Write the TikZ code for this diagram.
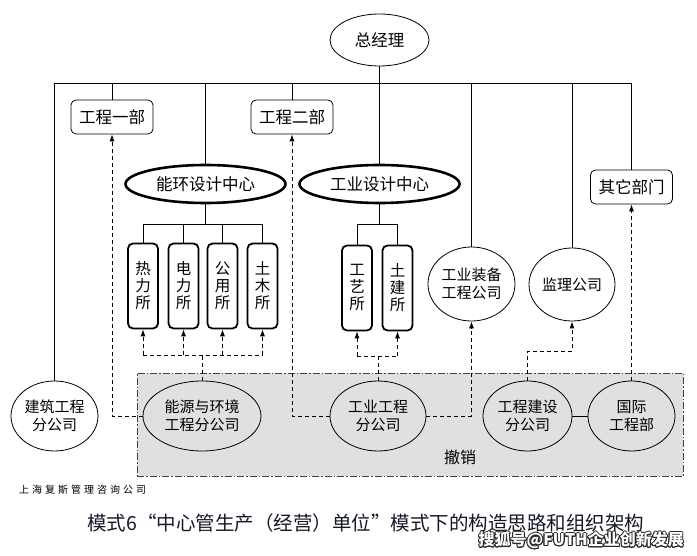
\documentclass[tikz,border=0pt]{standalone}
\usepackage{fontspec}
\setmainfont{Liberation Sans}
\newfontfamily\cjk{Noto Sans CJK SC}
\usepackage{contour}
\usetikzlibrary{shapes.geometric,arrows.meta}
\definecolor{shade}{RGB}{224,224,224}
\definecolor{captc}{RGB}{20,24,40}
\tikzset{
  solidln/.style={draw=black,line width=0.8pt},
  dashln/.style={draw=black,line width=0.8pt,dash pattern=on 4pt off 3pt},
  darr/.style={dashln,-{Latex[length=7pt,width=5pt]}},
  rbox/.style={draw,line width=0.8pt,rounded corners=5pt,minimum width=82pt,minimum height=34pt,inner sep=0pt,font=\cjk\fontsize{16.5}{18}\selectfont},
  ctr/.style={ellipse,draw,line width=2.6pt,minimum width=160pt,minimum height=38pt,inner sep=0pt,font=\cjk\fontsize{16.5}{18}\selectfont},
  subbox/.style={draw,line width=1.8pt,rounded corners=5pt,minimum width=30pt,minimum height=85pt,inner sep=0pt,align=center,font=\cjk\fontsize{15.5}{17}\selectfont},
  comp/.style={ellipse,draw,line width=0.8pt,inner sep=0pt,align=center,fill=white,font=\cjk\fontsize{15}{18}\selectfont},
  compg/.style={comp,fill=shade}
}
\begin{document}
\begin{tikzpicture}[x=1pt,y=-1pt]
\useasboundingbox (0,0) rectangle (697,556);
% shaded region
\node (chx) [draw=black!75,line width=0.8pt,dash pattern=on 7pt off 2pt on 1.5pt off 2pt,fill=shade,minimum width=546pt,minimum height=103pt,inner sep=0pt] at (410,424.5) {};
\node (cxl) [font=\cjk\fontsize{16}{18}\selectfont] at (460,457) {撤销};

% top
\node (zjl) [ellipse,draw,line width=0.8pt,minimum width=99pt,minimum height=52pt,inner sep=0pt,font=\cjk\fontsize{16.5}{18}\selectfont] at (379.5,40) {总经理};
\coordinate (busL) at (54.5,83);
\coordinate (busR) at (631.5,83);

\node (gc1) [rbox] at (112,117) {工程一部};
\node (gc2) [rbox] at (292,117) {工程二部};
\node (qt) [rbox] at (631.5,187) {其它部门};

\node (nhsj) [ctr] at (205.5,184) {能环设计中心};
\node (gysj) [ctr] at (379.5,184) {工业设计中心};

\node (rl) [subbox] at (143,286) {热\\力\\所};
\node (dl) [subbox] at (183.5,286) {电\\力\\所};
\node (gy) [subbox] at (222.5,286) {公\\用\\所};
\node (tm) [subbox] at (262.5,286) {土\\木\\所};
\node (gx) [subbox] at (357,288) {工\\艺\\所};
\node (tj) [subbox] at (397.5,288) {土\\建\\所};

\node (gyzb) [comp,minimum width=87pt,minimum height=74pt] at (471.5,284) {工业装备\\工程公司};
\node (jl) [comp,minimum width=86pt,minimum height=73pt] at (572,284.5) {监理公司};

\node (jz) [comp,minimum width=87pt,minimum height=70pt] at (54.5,416) {建筑工程\\分公司};
\node (nyhj) [compg,minimum width=118pt,minimum height=70pt] at (202,416) {能源与环境\\工程分公司};
\node (gygc) [compg,minimum width=96pt,minimum height=70pt] at (378,416) {工业工程\\分公司};
\node (gcjs) [compg,minimum width=89pt,minimum height=70pt] at (527.5,416) {工程建设\\分公司};
\node (gj) [compg,minimum width=87pt,minimum height=70pt] at (631.5,416) {国际\\工程部};

% solid tree
\draw[solidln] (busL) -- (busR);
\draw[solidln] (zjl.south) -- (gysj.north);
\draw[solidln] (busL) -- (jz.north);
\draw[solidln] (gc1.north |- busL) -- (gc1.north);
\draw[solidln] (nhsj.north |- busL) -- (nhsj.north);
\draw[solidln] (gc2.north |- busL) -- (gc2.north);
\draw[solidln] (gyzb.north |- busL) -- (gyzb.north);
\draw[solidln] (jl.north |- busL) -- (jl.north);
\draw[solidln] (busR) -- (qt.north);

\coordinate (nhj) at (205.5,224);
\draw[solidln] (nhsj.south) -- (nhj);
\draw[solidln] (rl.north) -- (rl.north |- nhj) -- (tm.north |- nhj) -- (tm.north);
\draw[solidln] (dl.north) -- (dl.north |- nhj);
\draw[solidln] (gy.north) -- (gy.north |- nhj);

\coordinate (gyj) at (379.5,224);
\draw[solidln] (gysj.south) -- (gyj);
\draw[solidln] (gx.north) -- (gx.north |- gyj) -- (tj.north |- gyj) -- (tj.north);

\draw[solidln] (gcjs.east) -- (gj.west);

% dashed
\coordinate (nhd) at (202,355);
\draw[dashln] (nyhj.north) -- (nhd);
\draw[dashln] (rl.south |- nhd) -- (tm.south |- nhd);
\foreach \b in {rl,dl,gy,tm} \draw[darr] (\b.south |- nhd) -- (\b.south);

\coordinate (gyd) at (378,356);
\draw[dashln] (gygc.north) -- (gyd);
\draw[dashln] (gx.south |- gyd) -- (tj.south |- gyd);
\foreach \b in {gx,tj} \draw[darr] (\b.south |- gyd) -- (\b.south);

\draw[darr] (nyhj.west) -| (gc1.south);
\draw[darr] (gygc.west) -| (gc2.south);
\draw[darr] (gygc.east) -| (gyzb.south);
\coordinate (jld) at (527.5,351);
\draw[darr] (gcjs.north) -- (jld) -| (jl.south);
\draw[darr] (gj.north) -- (qt.south);

% texts
\node (wm1) [anchor=west,inner sep=0pt,font=\cjk\fontsize{10}{12}\selectfont\addfontfeatures{LetterSpace=30}] at (19,490) {上海复斯管理咨询公司};
\node (cap) [anchor=west,inner sep=0pt,text=captc,font=\cjk\fontsize{19.5}{22}\selectfont] at (87,523) {模式6“中心管生产（经营）单位”模式下的构造思路和组织架构};
\node (wm2) [anchor=east,inner sep=0pt,text=white,font=\cjk\bfseries\fontsize{16}{18}\selectfont] at (684,541) {\contourlength{0.9pt}\contournumber{16}\contour{black!85}{搜狐号@FUTH企业创新发展}};
\end{tikzpicture}
\end{document}
